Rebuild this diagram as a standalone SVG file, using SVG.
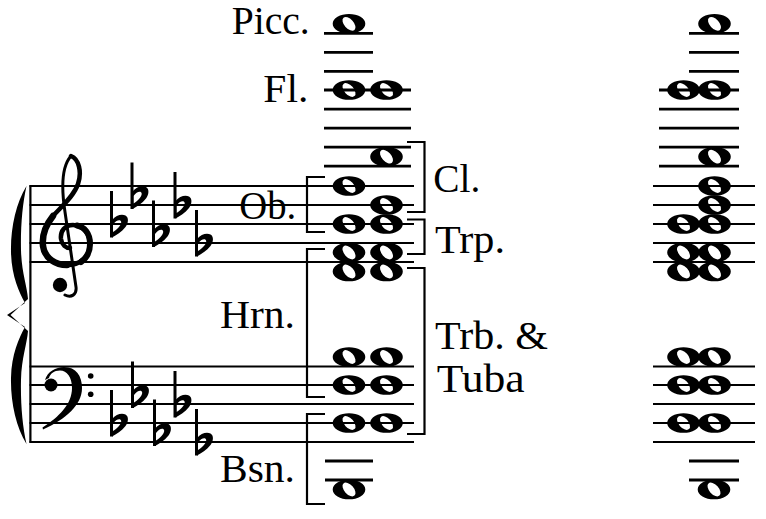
<svg xmlns="http://www.w3.org/2000/svg" width="766" height="519" viewBox="0 0 766 519">
<style>
.st{stroke:#000;stroke-width:1.8;fill:none}
.lg{stroke:#000;stroke-width:2.8;fill:none}
.br{stroke:#000;stroke-width:2.2;fill:none;stroke-linejoin:miter}
.lbl{font-family:"Liberation Serif","Times New Roman",serif;font-size:39px;fill:#000}
</style>
<defs>
<path id="wn" fill-rule="evenodd" d="M-16.3 0A16.3 9.8 0 1 0 16.3 0A16.3 9.8 0 1 0 -16.3 0Z M-5.49 -6.09A8.2 4.6 48 1 0 5.49 6.09A8.2 4.6 48 1 0 -5.49 -6.09Z"/>
<g id="flat">
<rect x="0" y="-33" width="3" height="46.5"/>
<path fill-rule="evenodd" d="M2 -4C6 -9 12 -10.5 15.5 -8.5C19 -6.5 18.5 -1 15.5 3C11.5 8 6.5 11 2 13.5Z M3 0.5C5.5 -3 9 -4.5 10.5 -3.2C12 -2 11 1 8.5 3.5C6.5 5.5 4.5 7 3 8Z"/>
</g>
</defs>
<rect width="766" height="519" fill="#fff"/>

<g id="staff-lines">
<path class="st" d="M29.5 186H414M29.5 205H414M29.5 224H414M29.5 243H414M29.5 262H414"/>
<path class="st" d="M29.5 366.5H414M29.5 385H414M29.5 404H414M29.5 423H414M29.5 442H414"/>
<path class="st" d="M653 186H755M653 205H755M653 224H755M653 243H755M653 262H755"/>
<path class="st" d="M653 366.5H755M653 385H755M653 404H755M653 423H755M653 442H755"/>
</g>

<g id="ledger-lines">
<path class="lg" d="M324 33.3H373M324 52.3H373M324 71.3H373"/>
<path class="lg" d="M324 90H411M324 109.2H411M324 128.2H411M324 147.2H411M324 166.2H411"/>
<path class="lg" d="M325 461H373M325 480H373"/>
<path class="lg" d="M689 33.3H739M689 52.3H739M689 71.3H739"/>
<path class="lg" d="M659 90H739M659 109.2H739M659 128.2H739M659 147.2H739M659 166.2H739"/>
<path class="lg" d="M689 461H739M689 480H739"/>
</g>

<g id="system-start">
<rect x="29.3" y="185.2" width="2.2" height="257.6"/>
<path id="brace" d="M26.5 186C16 203 10.5 228 11 252C11.5 276 19 292 25 303L7 315L25 327C19 338 11.5 354 11 378C10.5 402 16 427 26.5 444C22.5 426 20.5 404 21 380C21.5 358 27 344 28 331L10.5 315L28 299C27 286 21.5 272 21 250C20.5 226 22.5 204 26.5 186Z"/>
</g>

<g id="treble-clef" fill="none" stroke="#000" stroke-linecap="round">
<path stroke-width="3" d="M71 156C62 166 61 186 65 212L76 287C77 295 71 298 65 295"/>
<path stroke-width="4.5" d="M71 156C79 159 82 172 78 184C74 196 62 206 53 216C45 226 42 237 43 246C45 259 56 265 67 265C81 265 90 256 90 244C90 233 82 225 73 225C65 225 60 231 61 239C62 245 66 248 70 248"/>
<path stroke-width="6.5" d="M53 216C45 226 42 237 43 246C45 259 56 265 67 265"/>
<path stroke-width="6" d="M81 262C88 257 90 250 90 244C90 233 84 227 77 225.5"/>
<circle cx="60" cy="285" r="7.2" fill="#000" stroke="none"/>
</g>

<g id="bass-clef">
<path d="M45 380C47 372 56 367 64 367C76 367 82 376 82 388C82 405 66 419 43 429.5L42.5 427.5C59 417 72 404 72 388C72 377 67 370.5 60 370.5C54 370.5 50 374 49 378Z"/>
<circle cx="51" cy="385" r="6.5"/>
<circle cx="90.7" cy="376" r="2.8"/>
<circle cx="90.7" cy="394.3" r="2.8"/>
</g>

<g id="key-signatures">
<use href="#flat" x="110" y="224"/>
<use href="#flat" x="130.5" y="195.5"/>
<use href="#flat" x="152" y="233.5"/>
<use href="#flat" x="173.5" y="205"/>
<use href="#flat" x="195" y="243"/>
<use href="#flat" x="110" y="423"/>
<use href="#flat" x="131" y="394.5"/>
<use href="#flat" x="153" y="432.5"/>
<use href="#flat" x="173.5" y="404"/>
<use href="#flat" x="195" y="442"/>
</g>

<g id="notes-separate">
<use href="#wn" x="349" y="23.8"/>
<use href="#wn" x="349" y="90"/>
<use href="#wn" x="386.5" y="90"/>
<use href="#wn" x="386.5" y="156.7"/>
<use href="#wn" x="349" y="186"/>
<use href="#wn" x="386.5" y="205"/>
<use href="#wn" x="349" y="224"/>
<use href="#wn" x="386.5" y="224"/>
<use href="#wn" x="349" y="252.5"/>
<use href="#wn" x="386.5" y="252.5"/>
<use href="#wn" x="349" y="271.5"/>
<use href="#wn" x="386.5" y="271.5"/>
<use href="#wn" x="349" y="357"/>
<use href="#wn" x="386.5" y="357"/>
<use href="#wn" x="349" y="385"/>
<use href="#wn" x="386.5" y="385"/>
<use href="#wn" x="349" y="423"/>
<use href="#wn" x="386.5" y="423"/>
<use href="#wn" x="349" y="489.5"/>
</g>

<g id="notes-combined">
<use href="#wn" x="714.5" y="23.8"/>
<use href="#wn" x="683.5" y="90"/>
<use href="#wn" x="714.5" y="90"/>
<use href="#wn" x="714.5" y="156.7"/>
<use href="#wn" x="714.5" y="186"/>
<use href="#wn" x="714.5" y="205"/>
<use href="#wn" x="714.5" y="224"/>
<use href="#wn" x="683.5" y="224"/>
<use href="#wn" x="683.5" y="252.5"/>
<use href="#wn" x="714.5" y="252.5"/>
<use href="#wn" x="683.5" y="271.5"/>
<use href="#wn" x="714.5" y="271.5"/>
<use href="#wn" x="683.5" y="357"/>
<use href="#wn" x="714.5" y="357"/>
<use href="#wn" x="683.5" y="385"/>
<use href="#wn" x="714.5" y="385"/>
<use href="#wn" x="683.5" y="423"/>
<use href="#wn" x="714.5" y="423"/>
<use href="#wn" x="714" y="489.5"/>
</g>

<g id="brackets">
<path id="br-ob" class="br" d="M325 177H307V232H325"/>
<path id="br-hrn" class="br" d="M325 249H307V397H325"/>
<path id="br-bsn" class="br" d="M325 414H307V504H325"/>
<path id="br-cl" class="br" d="M407 142H424.5V212H407"/>
<path id="br-trp" class="br" d="M407 219.5H424.5V254H407"/>
<path id="br-trb" class="br" d="M407 268H424.5V434H407"/>
</g>

<g id="labels">
<text id="lbl-picc" class="lbl" x="231.7" y="34.3" textLength="78" lengthAdjust="spacingAndGlyphs">Picc.</text>
<text id="lbl-fl" class="lbl" x="263.3" y="101.5" textLength="45" lengthAdjust="spacingAndGlyphs">Fl.</text>
<text id="lbl-ob" class="lbl" x="239.3" y="219.3" textLength="57" lengthAdjust="spacingAndGlyphs">Ob.</text>
<text id="lbl-cl" class="lbl" x="433.3" y="192.3" textLength="47" lengthAdjust="spacingAndGlyphs">Cl.</text>
<text id="lbl-trp" class="lbl" x="435" y="253.3" textLength="70" lengthAdjust="spacingAndGlyphs">Trp.</text>
<text id="lbl-hrn" class="lbl" x="220" y="328.3" textLength="75" lengthAdjust="spacingAndGlyphs">Hrn.</text>
<text id="lbl-trb" class="lbl" x="435" y="349.3" textLength="113" lengthAdjust="spacingAndGlyphs">Trb. &amp;</text>
<text id="lbl-tuba" class="lbl" x="436.7" y="391.7" textLength="88" lengthAdjust="spacingAndGlyphs">Tuba</text>
<text id="lbl-bsn" class="lbl" x="220" y="481.7" textLength="75" lengthAdjust="spacingAndGlyphs">Bsn.</text>
</g>
</svg>
